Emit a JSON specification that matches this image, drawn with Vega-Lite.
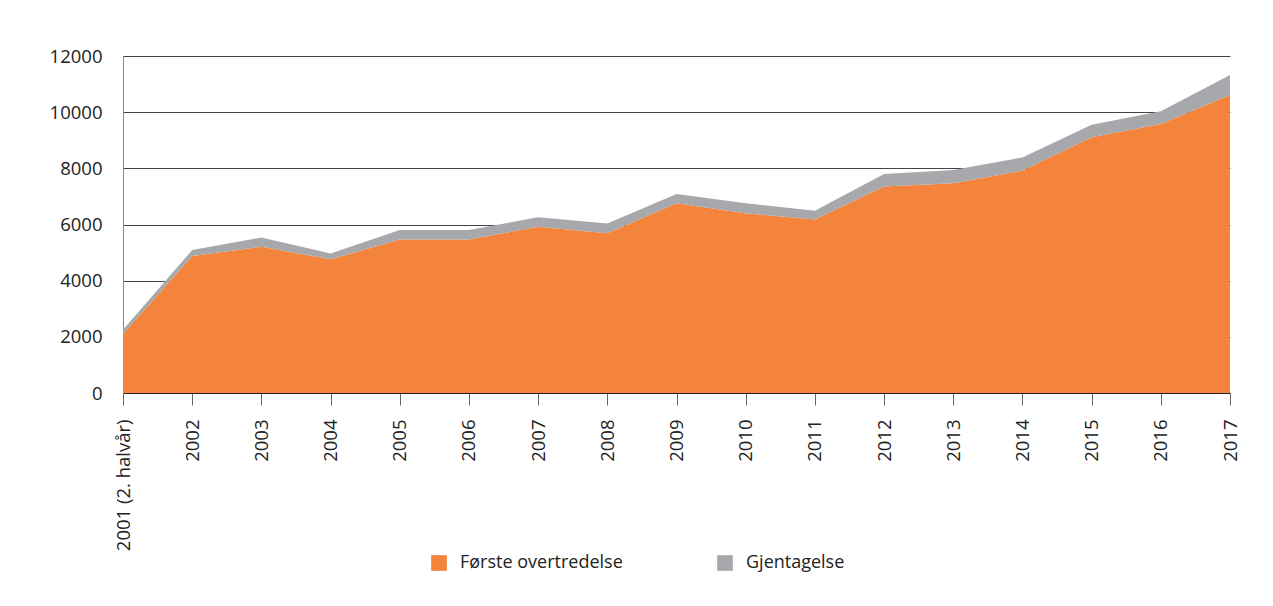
{
  "$schema": "https://vega.github.io/schema/vega-lite/v6.json",
  "width": 1107,
  "height": 337,
  "autosize": "none",
  "padding": {"left": 123, "top": 56, "right": 43, "bottom": 213},
  "background": "white",
  "data": {
    "values": [
      {"year": "2001 (2. halvår)", "serie": "Første overtredelse", "value": 2100, "o": 1},
      {"year": "2002", "serie": "Første overtredelse", "value": 4880, "o": 1},
      {"year": "2003", "serie": "Første overtredelse", "value": 5210, "o": 1},
      {"year": "2004", "serie": "Første overtredelse", "value": 4760, "o": 1},
      {"year": "2005", "serie": "Første overtredelse", "value": 5470, "o": 1},
      {"year": "2006", "serie": "Første overtredelse", "value": 5470, "o": 1},
      {"year": "2007", "serie": "Første overtredelse", "value": 5920, "o": 1},
      {"year": "2008", "serie": "Første overtredelse", "value": 5690, "o": 1},
      {"year": "2009", "serie": "Første overtredelse", "value": 6760, "o": 1},
      {"year": "2010", "serie": "Første overtredelse", "value": 6400, "o": 1},
      {"year": "2011", "serie": "Første overtredelse", "value": 6180, "o": 1},
      {"year": "2012", "serie": "Første overtredelse", "value": 7350, "o": 1},
      {"year": "2013", "serie": "Første overtredelse", "value": 7470, "o": 1},
      {"year": "2014", "serie": "Første overtredelse", "value": 7920, "o": 1},
      {"year": "2015", "serie": "Første overtredelse", "value": 9110, "o": 1},
      {"year": "2016", "serie": "Første overtredelse", "value": 9580, "o": 1},
      {"year": "2017", "serie": "Første overtredelse", "value": 10610, "o": 1},
      {"year": "2001 (2. halvår)", "serie": "Gjentagelse", "value": 150, "o": 2},
      {"year": "2002", "serie": "Gjentagelse", "value": 210, "o": 2},
      {"year": "2003", "serie": "Gjentagelse", "value": 330, "o": 2},
      {"year": "2004", "serie": "Gjentagelse", "value": 210, "o": 2},
      {"year": "2005", "serie": "Gjentagelse", "value": 330, "o": 2},
      {"year": "2006", "serie": "Gjentagelse", "value": 330, "o": 2},
      {"year": "2007", "serie": "Gjentagelse", "value": 340, "o": 2},
      {"year": "2008", "serie": "Gjentagelse", "value": 350, "o": 2},
      {"year": "2009", "serie": "Gjentagelse", "value": 330, "o": 2},
      {"year": "2010", "serie": "Gjentagelse", "value": 360, "o": 2},
      {"year": "2011", "serie": "Gjentagelse", "value": 310, "o": 2},
      {"year": "2012", "serie": "Gjentagelse", "value": 450, "o": 2},
      {"year": "2013", "serie": "Gjentagelse", "value": 470, "o": 2},
      {"year": "2014", "serie": "Gjentagelse", "value": 470, "o": 2},
      {"year": "2015", "serie": "Gjentagelse", "value": 440, "o": 2},
      {"year": "2016", "serie": "Gjentagelse", "value": 450, "o": 2},
      {"year": "2017", "serie": "Gjentagelse", "value": 710, "o": 2}
    ]
  },
  "mark": {"type": "area", "opacity": 1},
  "encoding": {
    "x": {
      "field": "year",
      "type": "ordinal",
      "sort": null,
      "scale": {"type": "point", "padding": 0},
      "axis": {
        "title": null,
        "labelAngle": -90,
        "labelAlign": "right",
        "labelBaseline": "middle",
        "labelFontSize": 18.5,
        "labelColor": "#222",
        "labelPadding": 14,
        "tickSize": 12,
        "tickColor": "#666",
        "domainColor": "#222",
        "domainWidth": 1.2,
        "grid": false
      }
    },
    "y": {
      "field": "value",
      "type": "quantitative",
      "stack": "zero",
      "scale": {"domain": [0, 12000], "nice": false},
      "axis": {
        "title": null,
        "format": "d",
        "values": [0, 2000, 4000, 6000, 8000, 10000, 12000],
        "labelFontSize": 18.5,
        "labelColor": "#222",
        "labelPadding": 21,
        "ticks": false,
        "domain": true,
        "domainColor": "#888",
        "grid": true,
        "gridColor": "#444",
        "gridWidth": 1,
        "gridOpacity": 1
      }
    },
    "color": {
      "field": "serie",
      "type": "nominal",
      "scale": {"domain": ["Første overtredelse", "Gjentagelse"], "range": ["#F4843B", "#A7A8AB"]},
      "legend": {
        "title": null,
        "orient": "none",
        "legendX": 307,
        "legendY": 498,
        "direction": "horizontal",
        "symbolType": "square",
        "symbolSize": 246,
        "symbolStrokeWidth": 0,
        "labelFontSize": 18,
        "labelColor": "#222",
        "labelOffset": 12,
        "columnPadding": 93,
        "labelLimit": 300
      }
    },
    "order": {"field": "o", "type": "quantitative"}
  },
  "config": {
    "font": "Open Sans",
    "view": {"stroke": null}
  }
}
